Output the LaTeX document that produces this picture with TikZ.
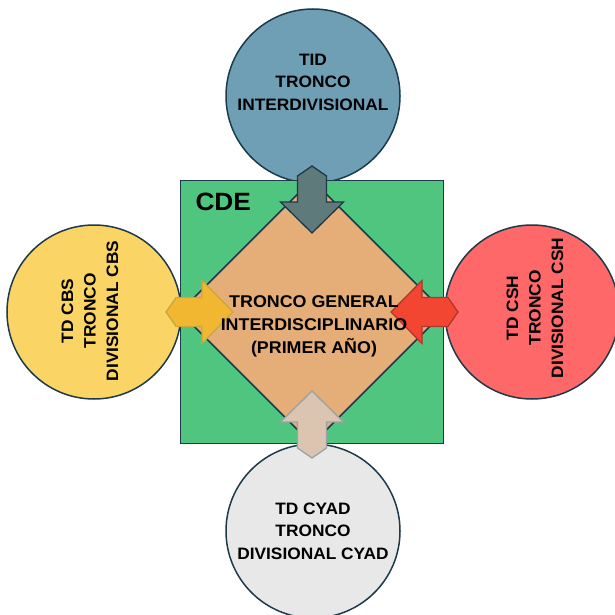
\documentclass[tikz,border=0pt]{standalone}
\usepackage{fontspec}
\setmainfont{Liberation Sans}[FakeStretch=1.05]
\usetikzlibrary{positioning}

\definecolor{linea}{HTML}{1C3A4A}
\definecolor{cdeverde}{HTML}{4FC580}
\definecolor{troncogral}{HTML}{E5AD77}
\definecolor{tidazul}{HTML}{6E9FB5}
\definecolor{tidflecha}{HTML}{5F7A7B}
\definecolor{cbsamarillo}{HTML}{FAD565}
\definecolor{cbsflecha}{HTML}{F2B730}
\definecolor{cbsborde}{HTML}{C9A83C}
\definecolor{cshrojo}{HTML}{FF6868}
\definecolor{cshflecha}{HTML}{F24633}
\definecolor{cshborde}{HTML}{B3362A}
\definecolor{cyadgris}{HTML}{E8E8E8}
\definecolor{cyadflecha}{HTML}{DCC5B0}
\definecolor{cyadborde}{HTML}{97A3A8}

\tikzset{
  circulo/.style={circle, draw=linea, line width=1.5pt, minimum size=174pt, inner sep=0pt},
  texto/.style={align=center, font=\bfseries\fontsize{16.5}{22.5}\selectfont},
}

\begin{document}
\begin{tikzpicture}[x=1pt, y=-1pt]

  \newcommand\C{312}
  % flecha: angulo, relleno, borde
  \newcommand\flecha[3]{
    \begin{scope}[shift={(\C,\C)}, rotate=#1]
      \draw[fill=#2, draw=#3, line width=1.3pt, line join=miter]
      (146,0) -- (136,14.5) -- (110,14.5) -- (110,31.5) -- (79,0)
      -- (110,-31.5) -- (110,-14.5) -- (136,-14.5) -- cycle;
    \end{scope}
  }

  \useasboundingbox (0,0) rectangle (615,615);

  % circulos
  \node[circulo, fill=tidazul] (tid) at (313,96) {};
  \node[circulo, fill=cbsamarillo] (cbs) at (94,312) {};
  \node[circulo, fill=cshrojo] (csh) at (532,312) {};
  \node[circulo, fill=cyadgris] (cyad) at (313,531) {};

  % CDE y tronco general
  \node[draw=linea, fill=cdeverde, line width=1.5pt, minimum size=263pt, inner sep=0pt]
    (cde) at (\C,\C) {};
  \draw[draw=linea, fill=troncogral, line width=1.5pt]
    (cde.north) -- (cde.east) -- (cde.south) -- (cde.west) -- cycle;

  \flecha{90}{tidflecha}{linea}
  \flecha{180}{cbsflecha}{cbsborde}
  \flecha{0}{cshflecha}{cshborde}
  \flecha{270}{cyadflecha}{cyadborde}

  % textos
  \node[font=\bfseries\fontsize{25}{30}\selectfont, anchor=west] (cdetxt) at (192,202) {CDE};
  \node[texto, font=\bfseries\fontsize{17}{23}\selectfont] (tgi) at (314,326)
    {TRONCO GENERAL\\INTERDISCIPLINARIO\\(PRIMER AÑO)};
  \node[texto] (tidtxt) at (313,82) {TID\\TRONCO\\INTERDIVISIONAL};
  \node[texto] (cyadtxt) at (313,531) {TD CYAD\\TRONCO\\DIVISIONAL CYAD};
  \node[texto, rotate=90] (cbstxt) at (90,311) {TD CBS\\TRONCO\\DIVISIONAL CBS};
  \node[texto, rotate=90] (cshtxt) at (535,308) {TD CSH\\TRONCO\\DIVISIONAL CSH};

\end{tikzpicture}
\end{document}
